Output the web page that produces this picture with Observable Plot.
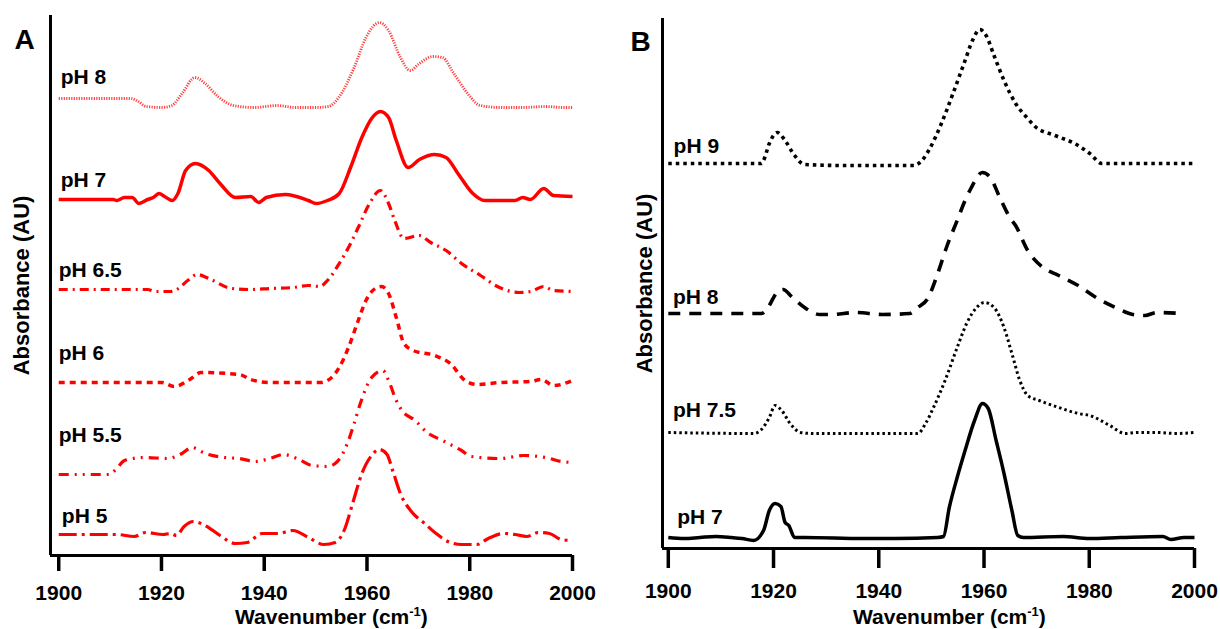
<!DOCTYPE html>
<html><head><meta charset="utf-8">
<script src="https://cdn.jsdelivr.net/npm/d3@7"></script>
<script src="https://cdn.jsdelivr.net/npm/@observablehq/plot@0.6"></script>
<style>
body{margin:0;background:#fff;}
#wrap{position:relative;width:1220px;height:629px;overflow:hidden;}
#a{position:absolute;left:0;top:0;}
#b{position:absolute;left:610px;top:0;}
</style></head><body><div id="wrap"><div id="a"></div><div id="b"></div></div>
<script>
// ---------- DATA (wavenumber, absorbance offset units) ----------
const xTicks = [1900, 1920, 1940, 1960, 1980, 2000];

// Panel A (red)
const A_pH8 = [[1900,45.7],[1914,45.7],[1915.5,45.4],[1917,44.9],[1920,44.8],[1922,45.0],[1924,46.2],[1926.5,47.8],[1928.5,47.2],[1931,45.9],[1934,45.0],[1938,44.8],[1942.5,45.0],[1946,44.8],[1950,44.8],[1952.5,44.9],[1954.5,45.8],[1957.5,48.8],[1959.8,51.8],[1962.4,53.3],[1964.2,52.5],[1966.5,49.8],[1968.4,48.5],[1970.2,49.2],[1972.8,49.9],[1974.7,49.8],[1976.9,48.2],[1979.9,46.0],[1982,45.0],[1986,44.8],[1990,44.8],[1995,44.9],[1998,44.8],[2000,44.8]];
const A_pH7 = [[1900,35.6],[1910.6,35.6],[1911.3,35.5],[1912.8,35.8],[1914.3,35.8],[1915.6,35.2],[1917.3,35.6],[1918.4,35.8],[1919.5,36.2],[1920.6,35.9],[1922.1,35.5],[1923.2,36.2],[1924.7,38.5],[1926.6,39.2],[1929.2,38.5],[1931.4,37.2],[1934.4,35.8],[1937.4,35.9],[1938.9,35.3],[1940.4,35.8],[1944.1,36.1],[1948.6,35.5],[1950.1,35.2],[1952.3,35.5],[1954.6,36.2],[1956.8,38.8],[1959,41.8],[1960.9,43.7],[1962.6,44.4],[1964.2,43.8],[1965.7,41.5],[1968,38.8],[1970.2,39.6],[1973.2,40.1],[1975.4,39.8],[1977.7,38.2],[1980.6,36.2],[1982.9,35.5],[1988.8,35.5],[1990.3,35.8],[1991.8,35.6],[1994.4,36.7],[1996.3,36.0],[2000,35.9]];
const A_pH65 = [[1900,26.6],[1917.3,26.6],[1918.8,26.4],[1921.8,26.4],[1923.3,26.7],[1925.1,27.5],[1927,28.1],[1929.2,27.7],[1933.7,26.7],[1937.4,26.6],[1941.1,26.7],[1945.6,26.8],[1948.6,27.0],[1950.8,26.9],[1952.3,27.5],[1954.6,29.2],[1956.4,30.8],[1958.3,32.8],[1960.5,35.2],[1962.6,36.5],[1964.2,35.2],[1965.4,33.5],[1967.2,31.7],[1970.2,32.0],[1972.4,31.3],[1975.4,30.5],[1978.4,29.2],[1982.1,28.0],[1985.8,26.8],[1989.6,26.3],[1991.8,26.4],[1994.4,26.9],[1996.3,26.5],[2000,26.4]];
const A_pH6 = [[1900,17.3],[1920,17.3],[1922.5,16.9],[1925.5,17.6],[1927.7,18.3],[1935.2,18.1],[1937.4,17.6],[1941,17.3],[1950.8,17.3],[1952.3,17.5],[1954.6,18.8],[1956.4,20.8],[1958.3,23.5],[1959.8,25.5],[1961.6,26.7],[1962.8,26.9],[1964.2,26.2],[1965.7,23.8],[1967.2,21.2],[1969,20.5],[1973.2,20.0],[1976.2,19.2],[1979.1,17.5],[1981.4,17.1],[1985.8,17.3],[1991.8,17.4],[1994,17.6],[1996.3,17.0],[2000,17.5]];
const A_pH55 = [[1900,8.1],[1909.8,8.1],[1911.3,8.7],[1912.8,9.5],[1916.6,9.8],[1921.1,9.7],[1924,10.2],[1925.9,10.8],[1928.5,10.2],[1932.2,9.8],[1935.2,9.7],[1938.2,9.4],[1941.1,9.7],[1943.7,10.1],[1946.4,9.7],[1949.3,9.0],[1952.3,8.9],[1953.8,9.2],[1955.3,10.2],[1956.4,11.5],[1957.5,13.2],[1958.7,15.2],[1960.9,17.8],[1963.1,18.5],[1964.2,17.5],[1965.7,15.5],[1966.8,14.5],[1969.4,13.5],[1971.7,12.3],[1974.7,11.5],[1978.4,10.5],[1980.3,9.9],[1985.8,9.7],[1988.8,9.9],[1990.3,10.0],[1994.8,9.8],[1997.8,9.4],[2000,9.3]];
const A_pH5 = [[1900,2.1],[1911.3,2.1],[1914.7,1.9],[1916.9,2.3],[1920.3,2.1],[1921.8,2.2],[1922.9,2.0],[1924.4,2.9],[1926.2,3.4],[1928.5,3.0],[1931.4,2.0],[1934.4,1.2],[1936.7,1.3],[1939.6,2.2],[1942.6,2.2],[1945.6,2.5],[1948.6,1.8],[1951.6,1.1],[1953.8,1.3],[1955.7,2.7],[1957.2,5.2],[1959,8.2],[1960.9,10.0],[1962.4,10.6],[1963.9,10.1],[1965,8.5],[1966.5,6.2],[1968.8,4.3],[1971,3.3],[1973.2,2.3],[1976.2,1.3],[1978.4,1.1],[1981.4,1.1],[1983.6,1.7],[1986.6,2.2],[1988.8,2.1],[1991.1,1.9],[1993.3,2.3],[1995.5,2.2],[1997.8,1.6],[2000,1.5]];

// Panel B (black)
const B_pH9 = [[1900,38.5],[1917.7,38.5],[1918.1,38.8],[1919.2,40.5],[1920.7,41.6],[1922.2,40.8],[1924,39.3],[1925.9,38.4],[1933.3,38.3],[1946.7,38.3],[1948.2,38.8],[1949.7,40.0],[1951.9,42.5],[1954.1,45.5],[1956.4,48.8],[1957.8,50.8],[1959.2,51.9],[1960.4,51.3],[1961.9,49.3],[1963.8,46.8],[1966,44.5],[1968.3,43.0],[1969.7,42.2],[1973.5,41.3],[1977.2,40.5],[1980.1,39.5],[1982.4,38.5],[1985.4,38.5],[2000,38.5]];
const B_pH8 = [[1900,23.5],[1917.7,23.5],[1918.4,23.7],[1920.7,25.6],[1921.8,25.9],[1923.6,25.1],[1925.9,24.1],[1928.8,23.4],[1931.1,23.4],[1935.5,23.6],[1940.7,23.4],[1945.9,23.5],[1947.4,24.1],[1949.3,25.0],[1951.2,27.5],[1953,30.3],[1954.9,32.8],[1956.4,34.8],[1957.5,36.0],[1959.7,37.6],[1961.2,37.1],[1963,35.1],[1964.9,33.1],[1966,32.3],[1968.3,29.8],[1971.2,28.1],[1974.2,27.3],[1977.9,26.3],[1981.6,25.0],[1985.4,24.0],[1988.3,23.4],[1990.6,23.3],[1992.8,23.6],[1997.6,23.5]];
const B_pH75 = [[1900,11.6],[1916.2,11.5],[1917.7,11.9],[1919.2,13.1],[1920.3,14.3],[1921.4,13.9],[1923.3,12.4],[1925.1,11.6],[1927.4,11.5],[1933.3,11.5],[1947.4,11.5],[1948.9,12.5],[1950.4,14.1],[1952.6,16.8],[1954.9,20.1],[1956.7,22.5],[1958.6,24.1],[1960.1,24.6],[1961.9,24.1],[1963.8,22.1],[1965.3,19.5],[1966.8,16.8],[1968.3,15.3],[1970.5,14.8],[1974.2,14.1],[1977.9,13.5],[1980.1,13.3],[1983.9,12.3],[1986.8,11.5],[1989.1,11.6],[1992.8,11.6],[1996.5,11.5],[2000,11.6]];
const B_pH7 = [[1900,1.1],[1903,1.0],[1906,1.1],[1909,1.2],[1912,1.1],[1914,1.0],[1916.2,0.8],[1918.1,1.8],[1919.2,3.8],[1920.3,4.5],[1921.4,4.2],[1922.2,2.6],[1922.9,2.3],[1924,1.1],[1925.9,1.1],[1937,1.0],[1943,1.0],[1951.2,1.1],[1952.3,1.2],[1953.4,4.1],[1954.9,7.1],[1956.4,9.8],[1958.2,12.8],[1959.7,14.5],[1960.8,14.0],[1962.3,10.8],[1963.8,7.5],[1965.3,3.8],[1966.4,1.3],[1967.5,1.1],[1975,1.2],[1980,1.0],[1986,1.1],[1994,1.2],[1995.5,0.9],[1998,1.1],[2000,1.1]];

// Labels
const labelsA = ["pH 8", "pH 7", "pH 6.5", "pH 6", "pH 5.5", "pH 5"];
const labelXA = [1900.4, 1900.4, 1900, 1900, 1900, 1900.6];
const labelYA = [47.8, 37.5, 28.5, 20.2, 12.0, 3.9];
const labelsB = ["pH 9", "pH 8", "pH 7.5", "pH 7"];
const labelXB = [1901.0, 1900.9, 1900.9, 1901.7];
const labelYB = [40.2, 25.1, 13.8, 3.1];

const yTitle = "Absorbance (AU)";
const panelNames = ["A", "B"];

// ---------- STYLES ----------
const RED = "#ff0000";
const stylesA = [
  {data: A_pH8, stroke: "#ff4040", width: 2.8, dash: "1.2,1.3"},
  {data: A_pH7, stroke: RED, width: 3.5, dash: null},
  {data: A_pH65, stroke: RED, width: 3.2, dash: "9,5,2,5"},
  {data: A_pH6, stroke: RED, width: 3.5, dash: "6,5"},
  {data: A_pH55, stroke: RED, width: 3.2, dash: "10,6,2,6,2,6"},
  {data: A_pH5, stroke: RED, width: 3.2, dash: "18,5,3,5"}
];
const stylesB = [
  {data: B_pH9, stroke: "#000", width: 3.6, dash: "3.5,4"},
  {data: B_pH8, stroke: "#000", width: 3.6, dash: "12,9"},
  {data: B_pH75, stroke: "#000", width: 3, dash: "2.5,3"},
  {data: B_pH7, stroke: "#000", width: 3.5, dash: null}
];

const FONT = "Liberation Sans, Arial, Helvetica, sans-serif";

function makePanel(cfg) {
  const lineMarks = cfg.styles.map(s => Plot.line(s.data.map(d => ({x: d[0], y: d[1]})), {
    x: "x", y: "y", stroke: s.stroke, strokeWidth: s.width,
    strokeDasharray: s.dash || undefined, strokeLinecap: "butt",
    curve: "monotone-x", strokeLinejoin: "round"
  }));
  const labelData = cfg.labels.map((t, i) => ({t, x: cfg.labelX[i], y: cfg.labelY[i]}));
  const y0 = cfg.yDomain[0];
  const svg = Plot.plot({
    width: cfg.width, height: 629,
    marginLeft: cfg.mL, marginRight: cfg.mR, marginTop: cfg.mT, marginBottom: cfg.mB,
    style: {fontFamily: FONT, background: "white", color: "#000"},
    x: {domain: cfg.xDomain, axis: null},
    y: {domain: cfg.yDomain, axis: null},
    marks: [
      ...lineMarks,
      Plot.text(labelData, {x: "x", y: "y", text: "t", textAnchor: "start", fontSize: 21, fontWeight: "bold", fill: "#000"}),
      Plot.ruleX([cfg.xDomain[0]], {stroke: "#000", strokeWidth: 3}),
      Plot.ruleY([y0], {stroke: "#000", strokeWidth: 3}),
      Plot.ruleX(xTicks, {x: d => d, y1: y0, y2: y0 - cfg.tickLen, stroke: "#000", strokeWidth: 3.5}),
      Plot.text(xTicks, {x: d => d, y: y0, dy: cfg.tickDy, text: d => String(d), textAnchor: "middle", lineAnchor: "middle", fontSize: 21, fontWeight: "bold", fill: "#000"}),
      Plot.text([yTitle], {frameAnchor: "left", dx: cfg.yTitleDx, rotate: -90, textAnchor: "middle", lineAnchor: "middle", fontSize: 22, fontWeight: "bold", fill: "#000"}),
      Plot.text([cfg.panel], {frameAnchor: "top-left", dx: cfg.panelDx, dy: cfg.panelDy, textAnchor: "middle", lineAnchor: "middle", fontSize: 28, fontWeight: "bold", fill: "#000"})
    ]
  });
  const t = d3.select(svg).append("text")
    .attr("x", cfg.titleX).attr("y", cfg.titleY)
    .attr("text-anchor", "start")
    .style("font-family", FONT).style("font-weight", "bold").style("font-size", cfg.titleSize + "px");
  t.append("tspan").text("Wavenumber (cm");
  t.append("tspan").attr("dy", -8).style("font-size", "13px").text("-1");
  t.append("tspan").attr("dy", 8).text(")");
  return svg;
}

document.getElementById("a").appendChild(makePanel({
  styles: stylesA, labels: labelsA, labelX: labelXA, labelY: labelYA,
  width: 610, mL: 50, mR: 38, mT: 15, mB: 74,
  xDomain: [1898.4, 2000], yDomain: [0, 54],
  tickLen: 1.6, tickDy: 37.3,
  yTitleDx: -29, panel: panelNames[0], panelDx: -26, panelDy: 25,
  titleX: 235, titleY: 623.5, titleSize: 21
}));
document.getElementById("b").appendChild(makePanel({
  styles: stylesB, labels: labelsB, labelX: labelXB, labelY: labelYB,
  width: 610, mL: 52, mR: 26, mT: 18, mB: 81,
  xDomain: [1898.9, 2000], yDomain: [0, 53],
  tickLen: 2.0, tickDy: 42.3,
  yTitleDx: -18, panel: panelNames[1], panelDx: -22, panelDy: 24,
  titleX: 243, titleY: 623.5, titleSize: 21
}));
</script></body></html>
